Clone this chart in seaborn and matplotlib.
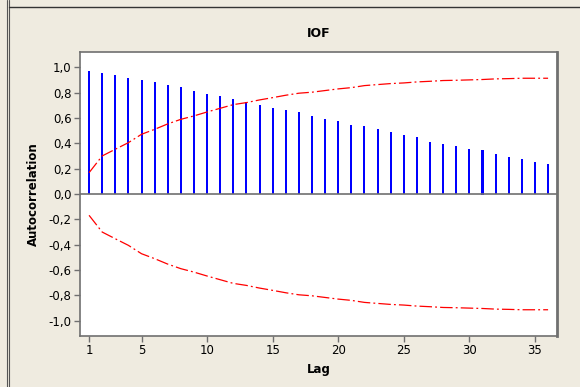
import numpy as np
import pandas as pd
import matplotlib
matplotlib.use("Agg")
import matplotlib.pyplot as plt
import seaborn as sns
from matplotlib.lines import Line2D

lags = list(range(1, 37))
acf = [0.971, 0.955, 0.942, 0.916, 0.900, 0.884, 0.863, 0.845, 0.816, 0.792,
       0.776, 0.753, 0.729, 0.705, 0.682, 0.663, 0.650, 0.616, 0.592, 0.576,
       0.545, 0.537, 0.513, 0.489, 0.466, 0.450, 0.411, 0.395, 0.379, 0.355,
       0.339, 0.316, 0.292, 0.276, 0.253, 0.237]
upper = [0.168, 0.300, 0.353, 0.405, 0.471, 0.510, 0.553, 0.589, 0.616, 0.647,
         0.676, 0.705, 0.721, 0.742, 0.760, 0.779, 0.795, 0.803, 0.816, 0.829,
         0.839, 0.855, 0.863, 0.871, 0.876, 0.884, 0.889, 0.895, 0.897, 0.900,
         0.903, 0.908, 0.910, 0.913, 0.913, 0.913]
lower = [-u for u in upper]
xticks = [1, 5, 10, 15, 20, 25, 30, 35]
yticks = [-1.0, -0.8, -0.6, -0.4, -0.2, 0.0, 0.2, 0.4, 0.6, 0.8, 1.0]
ytick_labels = [f"{v:.1f}".replace(".", ",") for v in yticks]

df = pd.DataFrame({"Lag": lags, "ACF": acf, "Upper": upper, "Lower": lower})

sns.set_theme(style="white")
plt.rcParams['font.family'] = ['DejaVu Sans']
plt.rcParams['text.color'] = 'black'
plt.rcParams['axes.labelcolor'] = 'black'

bg = "#EFEBE0"
fig = plt.figure(figsize=(5.8, 3.87), dpi=100, facecolor=bg)
W, H = 580, 387
ax = fig.add_axes([80 / W, 1 - 336 / H, (557 - 80) / W, (336 - 52) / H])
ax.set_facecolor("white")

sns.barplot(data=df, x="Lag", y="ACF", native_scale=True, width=0.001,
            color="#0000FF", saturation=1, edgecolor="#0000FF", linewidth=1.44, ax=ax)
for p in ax.patches:
    p.set_snap(True)
for col in ["Upper", "Lower"]:
    sns.lineplot(data=df, x="Lag", y=col, color="#FF0000", lw=0.9, ax=ax)
for ln in ax.lines:
    ln.set_dashes([10, 2.5, 1.5, 2.5])

ax.axhline(0, color="#707070", lw=1.2, zorder=3)

ax.set_xlim(0.31, 36.68)
ax.set_ylim(-1.12, 1.12)
ax.set_xticks(xticks)
ax.set_xticklabels([str(t) for t in xticks], fontsize=8.5, color="black")
ax.set_yticks(yticks)
ax.set_yticklabels(ytick_labels, fontsize=8.5, color="black")
ax.tick_params(axis="both", direction="out", length=4, width=1, color="#707070",
               left=True, bottom=True, pad=2)
for s in ax.spines.values():
    s.set_color("#707070")
    s.set_linewidth(1.2)
ax.spines["right"].set_linewidth(2)

ax.set_xlabel("Lag", fontsize=8.5, fontweight="bold", labelpad=4, color="black")
ax.set_ylabel("Autocorrelation", fontsize=8.5, fontweight="bold", labelpad=6, color="black")
ax.set_title("IOF", fontsize=9, fontweight="bold", pad=11, color="black")

# outer frame lines
fig.add_artist(Line2D([6.5 / W, 6.5 / W], [0, 1], color="#555555", lw=0.8))
fig.add_artist(Line2D([8.5 / W, 8.5 / W], [0, 1], color="#555555", lw=0.8))
fig.add_artist(Line2D([8.5 / W, 1], [1 - 6.5 / H, 1 - 6.5 / H], color="#333333", lw=1.0))

fig.savefig("out.png", dpi=100, facecolor=bg)
